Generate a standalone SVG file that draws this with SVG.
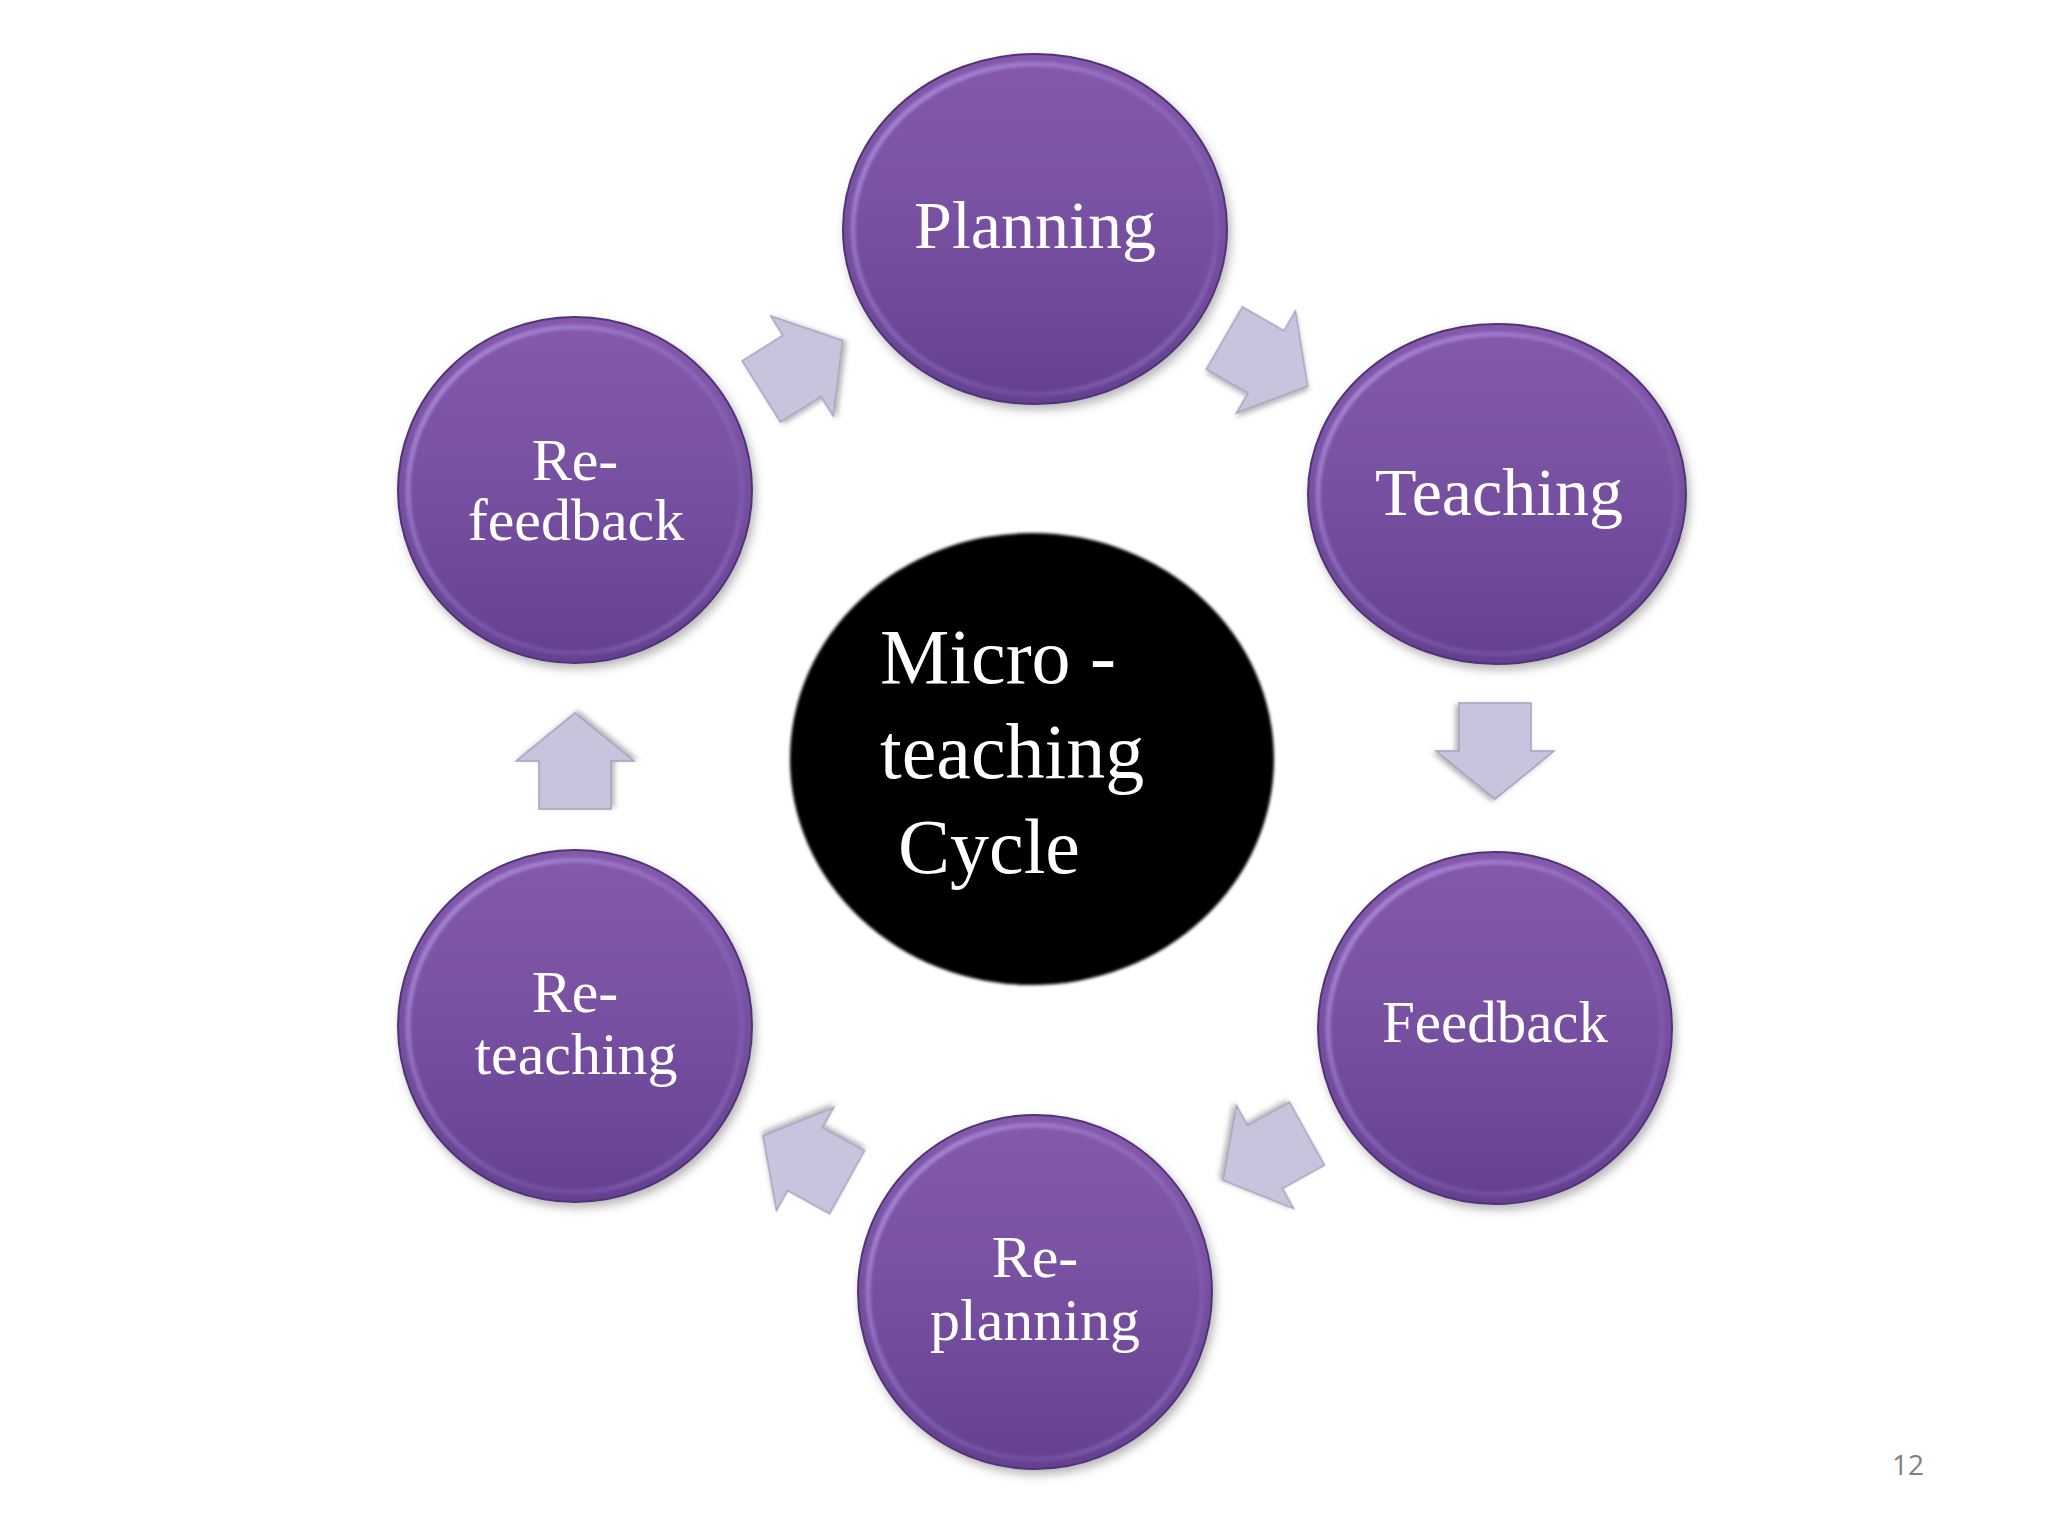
<svg xmlns="http://www.w3.org/2000/svg" width="2048" height="1536" viewBox="0 0 2048 1536">
  <defs>
    <linearGradient id="pfill" x1="0" y1="0" x2="0" y2="1">
      <stop offset="0" stop-color="#8559ab"/>
      <stop offset="0.5" stop-color="#7750a1"/>
      <stop offset="1" stop-color="#654090"/>
    </linearGradient>
    <linearGradient id="rim" x1="0" y1="0" x2="1" y2="1">
      <stop offset="0" stop-color="#b497e6" stop-opacity="0.95"/>
      <stop offset="0.45" stop-color="#9a7ccd" stop-opacity="0.5"/>
      <stop offset="0.75" stop-color="#8a6cc0" stop-opacity="0.3"/>
      <stop offset="1" stop-color="#a386d8" stop-opacity="0.8"/>
    </linearGradient>
    <filter id="shadow" x="-20%" y="-20%" width="140%" height="140%">
      <feDropShadow dx="3" dy="5" stdDeviation="5" flood-color="#606060" flood-opacity="0.45"/>
    </filter>
    <filter id="soft" x="-10%" y="-10%" width="120%" height="120%">
      <feGaussianBlur stdDeviation="1.5"/>
    </filter>
    <filter id="ashadow" x="-30%" y="-30%" width="160%" height="160%">
      <feDropShadow dx="2" dy="3" stdDeviation="2.5" flood-color="#707070" flood-opacity="0.5"/>
    </filter>
    <path id="arrow" d="M-48,-36 L0,-36 L0,-59 L48,0 L0,59 L0,36 L-48,36 Z"/>
  </defs>
  <style>
    .circ { fill: url(#pfill); stroke: #4f3477; stroke-width: 2; }
    .rim { fill: none; stroke: url(#rim); stroke-width: 5; }
    .lbl { font-family: "Liberation Serif", "Times New Roman", serif; fill: #ffffff; text-anchor: middle; }
    .arr { fill: #c8c4de; stroke: #a8a4bf; stroke-width: 1.5; }
  </style>
  <rect width="2048" height="1536" fill="#ffffff"/>

  <g id="connectors">
    <use href="#arrow" class="arr" filter="url(#ashadow)" transform="translate(1266,362) rotate(30)"/>
    <use href="#arrow" class="arr" filter="url(#ashadow)" transform="translate(1495,751) rotate(90)"/>
    <use href="#arrow" class="arr" filter="url(#ashadow)" transform="translate(1265,1157) rotate(151)"/>
    <use href="#arrow" class="arr" filter="url(#ashadow)" transform="translate(805,1159) rotate(209)"/>
    <use href="#arrow" class="arr" filter="url(#ashadow)" transform="translate(575,761) rotate(-90)"/>
    <use href="#arrow" class="arr" filter="url(#ashadow)" transform="translate(802,366) rotate(-32)"/>
  </g>

  <g id="node-planning">
    <ellipse class="circ" filter="url(#shadow)" cx="1035" cy="229" rx="192" ry="175"/>
    <ellipse class="rim" filter="url(#soft)" cx="1035" cy="229" rx="182" ry="165"/>
    <text class="lbl" x="1035" y="248" font-size="68">Planning</text>
  </g>

  <g id="node-teaching">
    <ellipse class="circ" filter="url(#shadow)" cx="1497" cy="494" rx="189" ry="170"/>
    <ellipse class="rim" filter="url(#soft)" cx="1497" cy="494" rx="179" ry="160"/>
    <text class="lbl" x="1499" y="515" font-size="68">Teaching</text>
  </g>

  <g id="node-feedback">
    <ellipse class="circ" filter="url(#shadow)" cx="1495" cy="1028" rx="177" ry="176"/>
    <ellipse class="rim" filter="url(#soft)" cx="1495" cy="1028" rx="167" ry="166"/>
    <text class="lbl" x="1495" y="1042" font-size="59">Feedback</text>
  </g>

  <g id="node-replanning">
    <ellipse class="circ" filter="url(#shadow)" cx="1035" cy="1292" rx="177" ry="177"/>
    <ellipse class="rim" filter="url(#soft)" cx="1035" cy="1292" rx="167" ry="167"/>
    <text class="lbl" x="1035" y="1277" font-size="60">Re-</text>
    <text class="lbl" x="1035" y="1340" font-size="60">planning</text>
  </g>

  <g id="node-reteaching">
    <ellipse class="circ" filter="url(#shadow)" cx="575" cy="1026" rx="177" ry="176"/>
    <ellipse class="rim" filter="url(#soft)" cx="575" cy="1026" rx="167" ry="166"/>
    <text class="lbl" x="575" y="1012" font-size="60">Re-</text>
    <text class="lbl" x="576" y="1074" font-size="60">teaching</text>
  </g>

  <g id="node-refeedback">
    <ellipse class="circ" filter="url(#shadow)" cx="575" cy="490" rx="177" ry="173"/>
    <ellipse class="rim" filter="url(#soft)" cx="575" cy="490" rx="167" ry="163"/>
    <text class="lbl" x="575" y="480" font-size="60">Re-</text>
    <text class="lbl" x="576" y="540" font-size="60">feedback</text>
  </g>

  <g id="node-center">
    <ellipse cx="1032" cy="759" rx="242" ry="226" fill="#000000" filter="url(#soft)"/>
    <text x="880" y="683" font-size="78" font-family="Liberation Serif, Times New Roman, serif" fill="#ffffff">Micro -</text>
    <text x="880" y="778" font-size="78" font-family="Liberation Serif, Times New Roman, serif" fill="#ffffff">teaching</text>
    <text x="898" y="873" font-size="78" font-family="Liberation Serif, Times New Roman, serif" fill="#ffffff">Cycle</text>
  </g>

  <text id="page-number" x="1892" y="1475" font-size="28" font-family="Open Sans, Liberation Sans, sans-serif" fill="#7f7f7f">12</text>
</svg>
